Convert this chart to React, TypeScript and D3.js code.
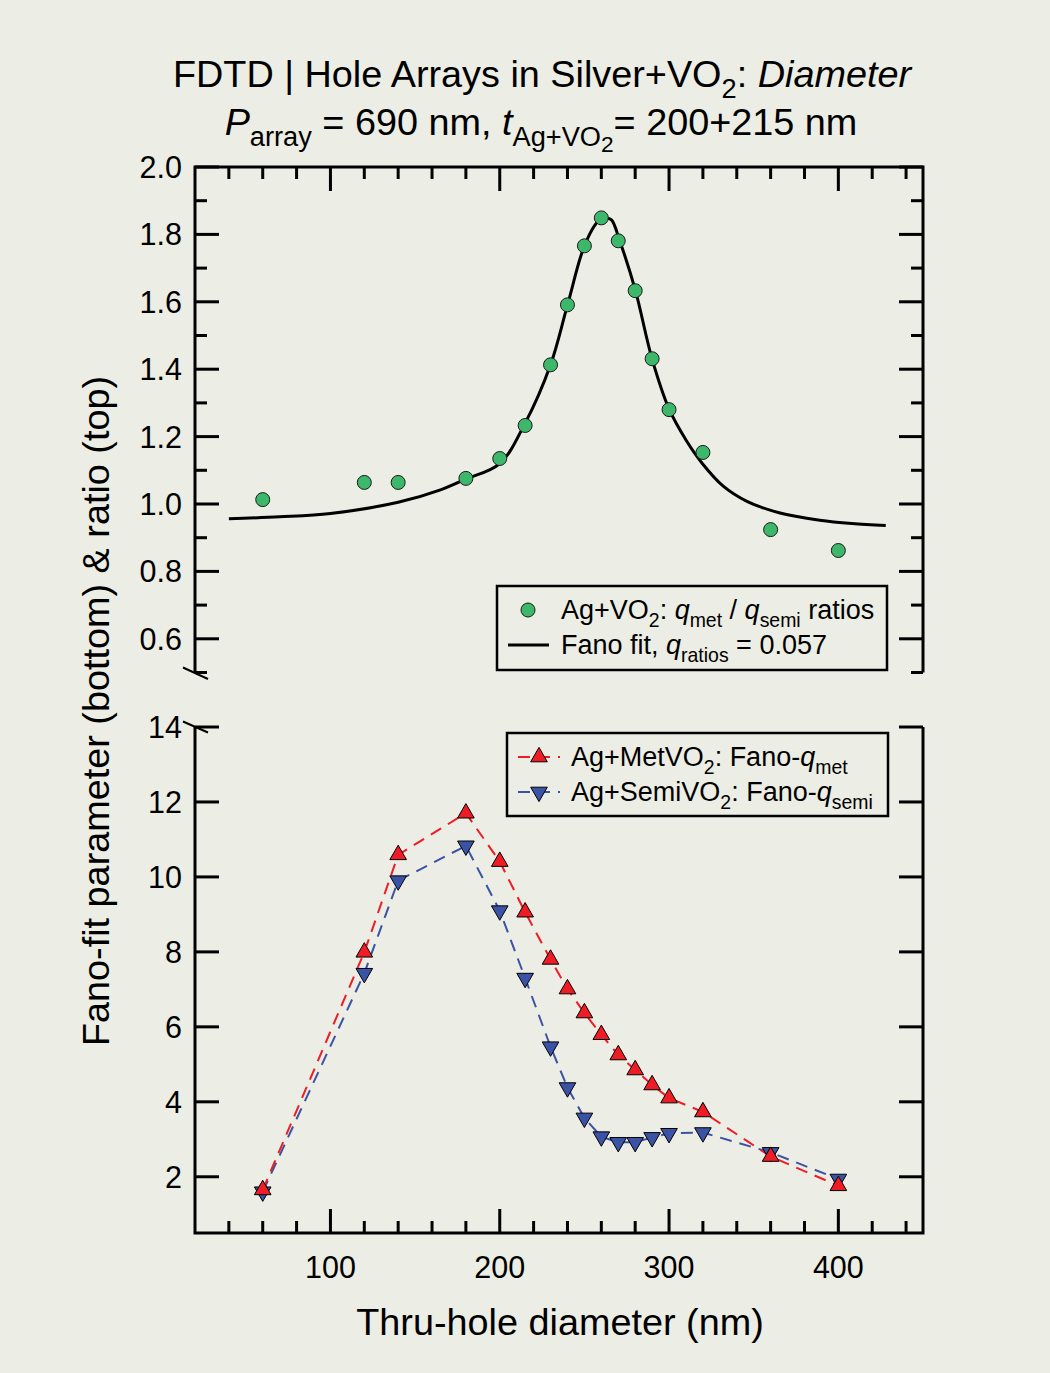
import * as d3 from "d3";

// diameters (nm) shared by all three series
const diameters = [60, 120, 140, 180, 200, 215, 230, 240, 250, 260, 270, 280, 290, 300, 320, 360, 400];
// top panel: q_met / q_semi ratios
const ratios = [1.013, 1.064, 1.064, 1.076, 1.135, 1.233, 1.413, 1.591, 1.766, 1.849, 1.781, 1.633, 1.431, 1.28, 1.153, 0.924, 0.862];
// Fano fit curve
const fitX = [40, 70, 100, 140, 165, 180, 200, 215, 230, 240, 250, 258, 263, 266, 271, 280, 290, 300, 310, 320, 332, 346, 365, 389, 408, 428];
const fitY = [0.956, 0.962, 0.972, 1.005, 1.042, 1.074, 1.12, 1.24, 1.413, 1.59, 1.766, 1.838, 1.848, 1.843, 1.779, 1.636, 1.43, 1.282, 1.19, 1.118, 1.053, 1.008, 0.974, 0.952, 0.942, 0.936];
// bottom panel: Fano-q values
const qMet = [1.65, 7.99, 10.59, 11.7, 10.41, 9.06, 7.8, 7.01, 6.37, 5.79, 5.25, 4.85, 4.45, 4.1, 3.73, 2.54, 1.76];
const qSemi = [1.6, 7.43, 9.9, 10.83, 9.1, 7.3, 5.47, 4.38, 3.57, 3.07, 2.92, 2.92, 3.05, 3.16, 3.18, 2.65, 1.94];

// ticks
const xMajor = [100, 200, 300, 400];
const xMinor = d3.range(40, 451, 20).filter((v) => v % 100 !== 0);
const topMajor = [0.6, 0.8, 1.0, 1.2, 1.4, 1.6, 1.8, 2.0];
const topMinor = [0.5, 0.7, 0.9, 1.1, 1.3, 1.5, 1.7, 1.9];
const botMajor = [2, 4, 6, 8, 10, 12, 14];

const W = 1050;
const H = 1373;
const BG = "#ECEDE4";
const GREEN = "#3DB76A";
const RED = "#EE1C25";
const BLUE = "#3A53A4";
const FONT = "'Liberation Sans', Arial, Helvetica, sans-serif";

const left = 195;
const right = 923;

const x = d3.scaleLinear().domain([20, 450]).range([left, right]);
const yTop = d3.scaleLinear().domain([0.5, 2.0]).range([672.5, 167]);
const yBot = d3.scaleLinear().domain([0.5, 14]).range([1233, 727]);

type Seg = { t: string; lvl?: number; it?: boolean };

// text with sub / sub-sub levels
function Rich({ segs, size, ...rest }: { segs: Seg[]; size: number; [k: string]: any }) {
  const shifts = [0, size * 0.28, size * 0.45];
  const sizes = [size, size * 0.72, size * 0.6];
  let cur = 0;
  return (
    <text fontSize={size} fontFamily={FONT} fill="#000" {...rest}>
      {segs.map((s, i) => {
        const lvl = s.lvl ?? 0;
        const dy = shifts[lvl] - cur;
        cur = shifts[lvl];
        return (
          <tspan key={i} dy={dy} fontSize={sizes[lvl]} fontStyle={s.it ? "italic" : "normal"}>
            {s.t}
          </tspan>
        );
      })}
    </text>
  );
}

const tri = d3.symbol(d3.symbolTriangle, 120)()!;

function UpTri({ cx, cy }: { cx: number; cy: number }) {
  return <path d={tri} transform={`translate(${cx},${cy})`} fill={RED} stroke="#000" strokeWidth={1} />;
}
function DownTri({ cx, cy }: { cx: number; cy: number }) {
  return <path d={tri} transform={`translate(${cx},${cy}) rotate(180)`} fill={BLUE} stroke="#000" strokeWidth={1} />;
}

export default function App() {
  const fitLine = d3
    .line<number>()
    .x((_, i) => x(fitX[i]))
    .y((d) => yTop(d))
    .curve(d3.curveCatmullRom.alpha(0.5));
  const qLine = d3
    .line<number>()
    .x((_, i) => x(diameters[i]))
    .y((d) => yBot(d));

  const tickW = 3;
  const major = 24;
  const minor = 12;

  return (
    <svg width={W} height={H} style={{ position: "absolute", left: 0, top: 0, background: BG }}>
      <rect width={W} height={H} fill={BG} />

      {/* title */}
      <Rich
        x={542}
        y={87}
        size={37.8}
        textAnchor="middle"
        segs={[
          { t: "FDTD | Hole Arrays in Silver+VO" },
          { t: "2", lvl: 1 },
          { t: ": " },
          { t: "Diameter", it: true },
        ]}
      />
      <Rich
        x={541}
        y={135}
        size={37.8}
        textAnchor="middle"
        segs={[
          { t: "P", it: true },
          { t: "array", lvl: 1 },
          { t: " = 690 nm, " },
          { t: "t", it: true },
          { t: "Ag+VO", lvl: 1 },
          { t: "2", lvl: 2 },
          { t: "= 200+215 nm" },
        ]}
      />

      {/* panel frames */}
      <g stroke="#000" strokeWidth={3} fill="none">
        <path d={`M${left},${yTop(0.5)}V${yTop(2)}H${right}V${yTop(0.5)}`} />
        <path d={`M${left},${yBot(14)}V${yBot(0.5)}H${right}V${yBot(14)}`} />
      </g>
      {/* axis break marks */}
      <g stroke="#000" strokeWidth={2}>
        <line x1={183} y1={667.5} x2={208} y2={679} />
        <line x1={183} y1={721.5} x2={208} y2={732.5} />
      </g>

      {/* ticks */}
      <g stroke="#000" strokeWidth={tickW}>
        {xMajor.map((v) => (
          <g key={"xm" + v}>
            <line x1={x(v)} x2={x(v)} y1={yTop(2)} y2={yTop(2) + major} />
            <line x1={x(v)} x2={x(v)} y1={yBot(0.5)} y2={yBot(0.5) - major} />
          </g>
        ))}
        {xMinor.map((v) => (
          <g key={"xn" + v}>
            <line x1={x(v)} x2={x(v)} y1={yTop(2)} y2={yTop(2) + minor} />
            <line x1={x(v)} x2={x(v)} y1={yBot(0.5)} y2={yBot(0.5) - minor} />
          </g>
        ))}
        {topMajor.map((v) => (
          <g key={"tm" + v}>
            <line x1={left} x2={left + major} y1={yTop(v)} y2={yTop(v)} />
            <line x1={right} x2={right - major} y1={yTop(v)} y2={yTop(v)} />
          </g>
        ))}
        {topMinor.map((v) => (
          <g key={"tn" + v}>
            <line x1={left} x2={left + minor} y1={yTop(v)} y2={yTop(v)} />
            <line x1={right} x2={right - minor} y1={yTop(v)} y2={yTop(v)} />
          </g>
        ))}
        {botMajor.map((v) => (
          <g key={"bm" + v}>
            <line x1={left} x2={left + major} y1={yBot(v)} y2={yBot(v)} />
            <line x1={right} x2={right - major} y1={yBot(v)} y2={yBot(v)} />
          </g>
        ))}
      </g>

      {/* tick labels */}
      <g fontFamily={FONT} fontSize={30.5} fill="#000">
        {topMajor.map((v) => (
          <text key={"tl" + v} x={182} y={yTop(v)} dy="0.36em" textAnchor="end">
            {v.toFixed(1)}
          </text>
        ))}
        {botMajor.map((v) => (
          <text key={"bl" + v} x={182} y={yBot(v)} dy="0.36em" textAnchor="end">
            {v}
          </text>
        ))}
        {xMajor.map((v) => (
          <text key={"xl" + v} x={x(v)} y={1278} textAnchor="middle">
            {v}
          </text>
        ))}
      </g>

      {/* axis titles */}
      <text x={560} y={1335} fontFamily={FONT} fontSize={37.8} textAnchor="middle">
        Thru-hole diameter (nm)
      </text>
      <text
        transform="translate(109,711) rotate(-90)"
        fontFamily={FONT}
        fontSize={37.8}
        textAnchor="middle"
      >
        Fano-fit parameter (bottom) &amp; ratio (top)
      </text>

      {/* top panel: fit + ratios */}
      <path d={fitLine(fitY)!} fill="none" stroke="#000" strokeWidth={3} />
      {ratios.map((v, i) => (
        <circle key={"r" + i} cx={x(diameters[i])} cy={yTop(v)} r={7} fill={GREEN} stroke="#1a1a1a" strokeWidth={1} />
      ))}

      {/* bottom panel: dashed lines + markers */}
      <path d={qLine(qSemi)!} fill="none" stroke={BLUE} strokeWidth={2} strokeDasharray="12,8" />
      <path d={qLine(qMet)!} fill="none" stroke={RED} strokeWidth={2} strokeDasharray="12,8" />
      {qSemi.map((v, i) => (
        <DownTri key={"s" + i} cx={x(diameters[i])} cy={yBot(v)} />
      ))}
      {qMet.map((v, i) => (
        <UpTri key={"m" + i} cx={x(diameters[i])} cy={yBot(v)} />
      ))}

      {/* legend top */}
      <rect x={497} y={586} width={390} height={84} fill="none" stroke="#000" strokeWidth={2.5} />
      <circle cx={528} cy={610} r={7} fill={GREEN} stroke="#1a1a1a" strokeWidth={1} />
      <Rich
        x={561}
        y={619}
        size={27}
        segs={[
          { t: "Ag+VO" },
          { t: "2", lvl: 1 },
          { t: ": " },
          { t: "q", it: true },
          { t: "met", lvl: 1 },
          { t: " / " },
          { t: "q", it: true },
          { t: "semi", lvl: 1 },
          { t: " ratios" },
        ]}
      />
      <line x1={508} x2={549} y1={645} y2={645} stroke="#000" strokeWidth={3} />
      <Rich
        x={561}
        y={654}
        size={27}
        segs={[
          { t: "Fano fit, " },
          { t: "q", it: true },
          { t: "ratios", lvl: 1 },
          { t: " = 0.057" },
        ]}
      />

      {/* legend bottom */}
      <rect x={507} y={733} width={381} height={83} fill="none" stroke="#000" strokeWidth={2.5} />
      <line x1={518} x2={560} y1={757} y2={757} stroke={RED} strokeWidth={2} strokeDasharray="12,8" />
      <UpTri cx={539} cy={757} />
      <Rich
        x={571}
        y={766}
        size={27}
        segs={[
          { t: "Ag+MetVO" },
          { t: "2", lvl: 1 },
          { t: ": Fano-" },
          { t: "q", it: true },
          { t: "met", lvl: 1 },
        ]}
      />
      <line x1={518} x2={560} y1={792} y2={792} stroke={BLUE} strokeWidth={2} strokeDasharray="12,8" />
      <DownTri cx={539} cy={792} />
      <Rich
        x={571}
        y={801}
        size={27}
        segs={[
          { t: "Ag+SemiVO" },
          { t: "2", lvl: 1 },
          { t: ": Fano-" },
          { t: "q", it: true },
          { t: "semi", lvl: 1 },
        ]}
      />
    </svg>
  );
}
